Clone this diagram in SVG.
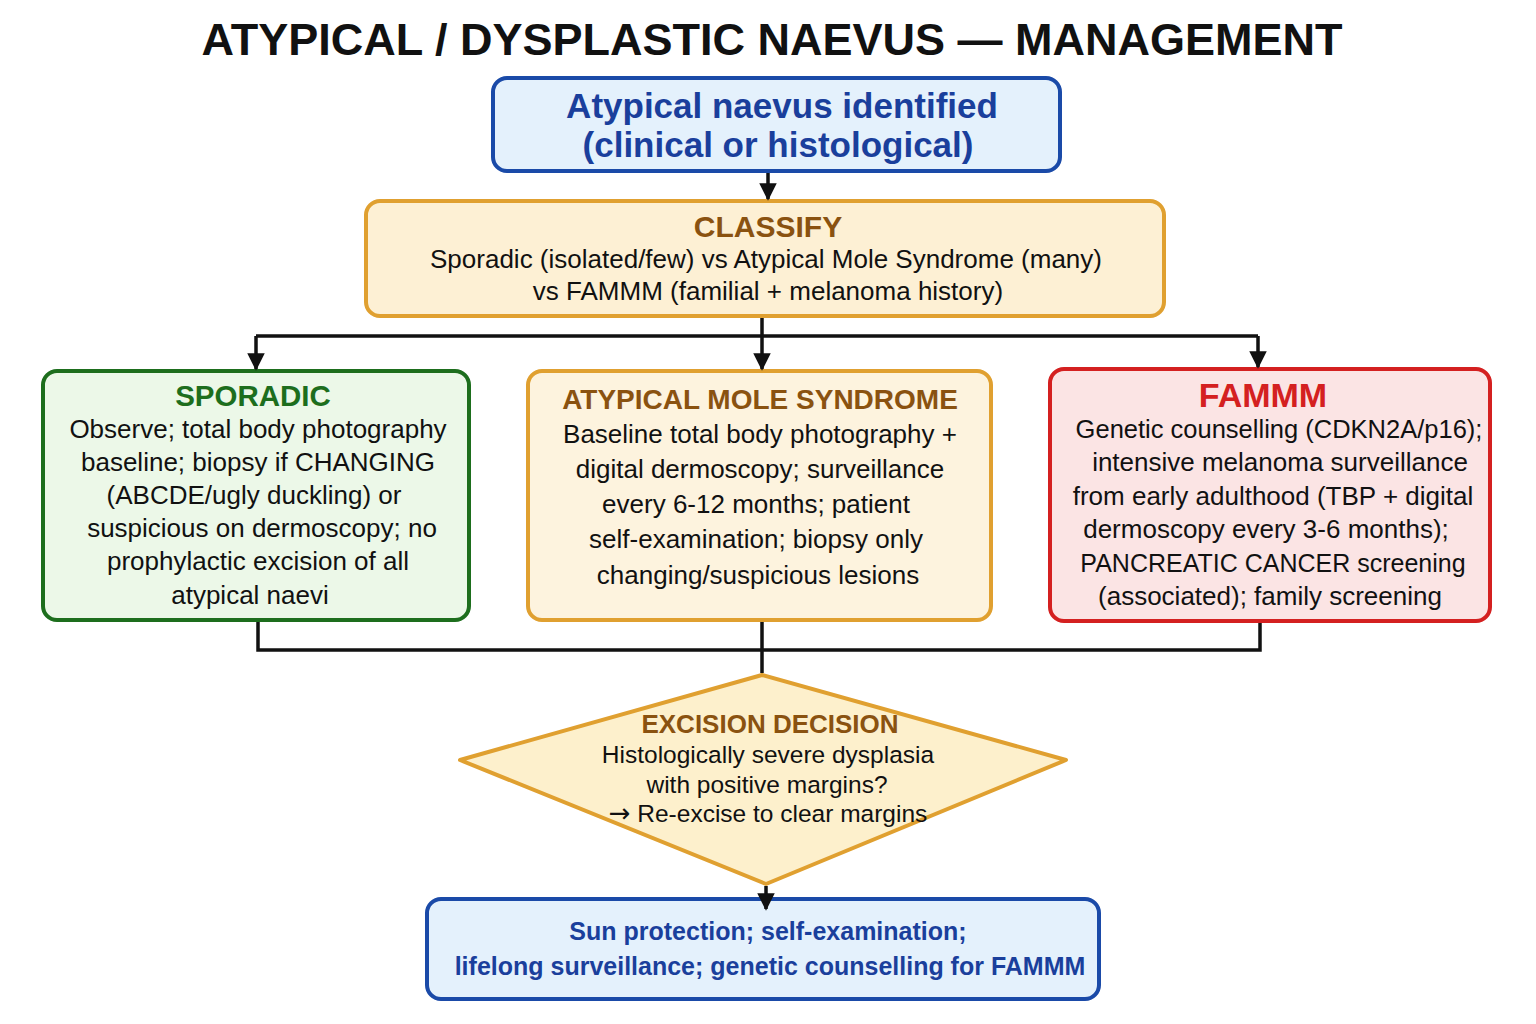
<svg xmlns="http://www.w3.org/2000/svg" width="1536" height="1024" viewBox="0 0 1536 1024">
<defs>
<marker id="arr" viewBox="0 0 10 10" refX="9" refY="5" markerWidth="5" markerHeight="5" orient="auto" markerUnits="strokeWidth">
<path d="M0,0 L10,5 L0,10 z" fill="#111"/>
</marker>
<style>
text{font-family:"Liberation Sans",Arial,sans-serif;text-anchor:middle}
.title{font-size:45px;font-weight:bold;fill:#111}
.blueT{font-size:35px;font-weight:bold;fill:#1a3f9c}
.head{font-size:28px;font-weight:bold}
.body{font-size:26px;fill:#111}
.dbody{font-size:24.5px;fill:#111}
.bot{font-size:25px;font-weight:bold;fill:#1a3f9c}
.conn{fill:none;stroke:#111;stroke-width:3.5}
</style>
</defs>
<rect width="1536" height="1024" fill="#ffffff"/>
<text class="title" x="772" y="55">ATYPICAL / DYSPLASTIC NAEVUS — MANAGEMENT</text>

<g id="start">
<rect x="493" y="78" width="567" height="93" rx="14" fill="#e4f1fc" stroke="#1a4aa8" stroke-width="4"/>
<text class="blueT" x="782" y="118">Atypical naevus identified</text>
<text class="blueT" x="778" y="157">(clinical or histological)</text>
</g>

<g id="classify">
<rect x="366" y="201" width="798" height="115" rx="14" fill="#fdf0d4" stroke="#e0a030" stroke-width="4"/>
<text class="head" x="768" y="237" fill="#8a5210" style="font-size:30px">CLASSIFY</text>
<text class="body" x="766" y="268">Sporadic (isolated/few) vs Atypical Mole Syndrome (many)</text>
<text class="body" x="768" y="300">vs FAMMM (familial + melanoma history)</text>
</g>

<g id="sporadic">
<rect x="43" y="371" width="426" height="249" rx="14" fill="#ecf8e8" stroke="#1d6e1d" stroke-width="4"/>
<text class="head" x="253" y="406" fill="#1d6e1d" style="font-size:29.5px">SPORADIC</text>
<text class="body" x="258" y="438">Observe; total body photography</text>
<text class="body" x="258" y="471">baseline; biopsy if CHANGING</text>
<text class="body" x="254" y="504">(ABCDE/ugly duckling) or</text>
<text class="body" x="262" y="537">suspicious on dermoscopy; no</text>
<text class="body" x="258" y="570">prophylactic excision of all</text>
<text class="body" x="250" y="604">atypical naevi</text>
</g>

<g id="ams">
<rect x="528" y="371" width="463" height="249" rx="14" fill="#fdf3de" stroke="#e0a030" stroke-width="4"/>
<text class="head" x="760" y="409" fill="#8a5210">ATYPICAL MOLE SYNDROME</text>
<text class="body" x="760" y="443">Baseline total body photography +</text>
<text class="body" x="760" y="478">digital dermoscopy; surveillance</text>
<text class="body" x="756" y="513">every 6-12 months; patient</text>
<text class="body" x="756" y="548">self-examination; biopsy only</text>
<text class="body" x="758" y="584">changing/suspicious lesions</text>
</g>

<g id="fammm">
<rect x="1050" y="369" width="440" height="252" rx="14" fill="#fbe4e4" stroke="#d42020" stroke-width="4"/>
<text class="head" x="1263" y="407" fill="#d42020" style="font-size:34px">FAMMM</text>
<text class="body" x="1279" y="438" style="font-size:25.5px">Genetic counselling (CDKN2A/p16);</text>
<text class="body" x="1280" y="471">intensive melanoma surveillance</text>
<text class="body" x="1273" y="505">from early adulthood (TBP + digital</text>
<text class="body" x="1266" y="538">dermoscopy every 3-6 months);</text>
<text class="body" x="1273" y="572" style="font-size:25px">PANCREATIC CANCER screening</text>
<text class="body" x="1270" y="605">(associated); family screening</text>
</g>

<g id="decision">
<polygon points="762,675 1066,760 766,884 460,760" fill="#fdf0cc" stroke="#e0a030" stroke-width="4" stroke-linejoin="round"/>
<text class="head" x="770" y="733" fill="#8a5210" style="font-size:26px">EXCISION DECISION</text>
<text class="dbody" x="768" y="763">Histologically severe dysplasia</text>
<text class="dbody" x="767" y="793">with positive margins?</text>
<text class="dbody" x="768" y="822"><tspan style="font-family:'DejaVu Sans',sans-serif;font-size:26px">→</tspan> Re-excise to clear margins</text>
</g>

<g id="outcome">
<rect x="427" y="899" width="672" height="100" rx="14" fill="#e4f1fc" stroke="#1a4aa8" stroke-width="4"/>
<text class="bot" x="768" y="940">Sun protection; self-examination;</text>
<text class="bot" x="770" y="975">lifelong surveillance; genetic counselling for FAMMM</text>
</g>

<g id="connectors">
<path class="conn" d="M768,173 V199" marker-end="url(#arr)"/>
<path class="conn" d="M762,318 V336 M256,336 H1258"/>
<path class="conn" d="M256,336 V369" marker-end="url(#arr)"/>
<path class="conn" d="M762,336 V369" marker-end="url(#arr)"/>
<path class="conn" d="M1258,336 V367" marker-end="url(#arr)"/>
<path class="conn" d="M258,622 V650 H1260 V623 M762,622 V673"/>
<path class="conn" d="M766,886 V909" marker-end="url(#arr)"/>
</g>
</svg>
